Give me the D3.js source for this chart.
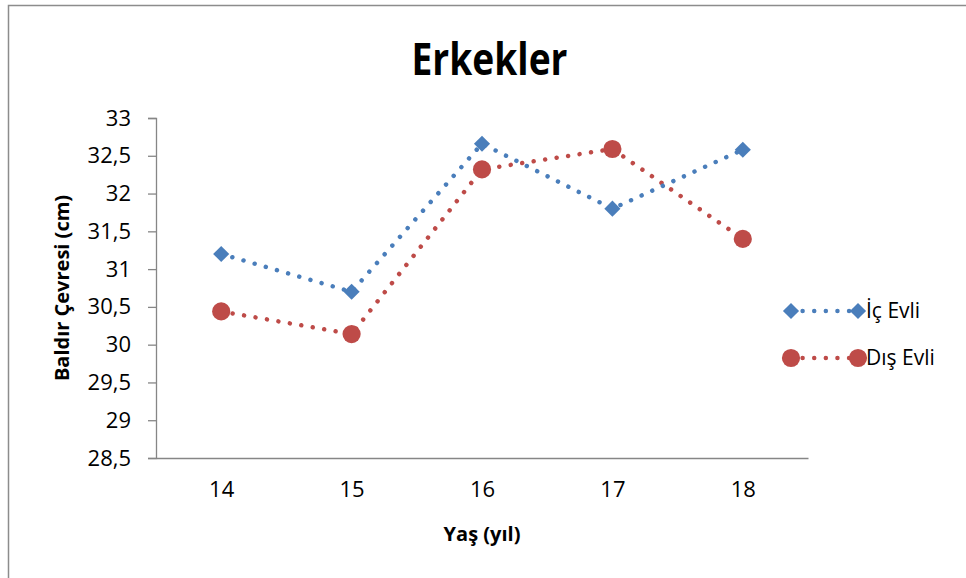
<!DOCTYPE html>
<html>
<head>
<meta charset="utf-8">
<script src="https://cdn.jsdelivr.net/npm/d3@7"></script>
<style>
  html, body { margin: 0; padding: 0; background: #fff; }
  svg { display: block; }
  text { font-family: "Open Sans", "Noto Sans", sans-serif; fill: #000; }
</style>
</head>
<body>
<svg id="chart" width="966" height="578"></svg>
<script>
const categories = ["14", "15", "16", "17", "18"];
const icEvli = [31.2, 30.7, 32.66, 31.8, 32.58];
const disEvli = [30.44, 30.14, 32.32, 32.59, 31.4];
const yTicks = [28.5, 29, 29.5, 30, 30.5, 31, 31.5, 32, 32.5, 33];
const seriesNames = ["İç Evli", "Dış Evli"];
const chartTitle = "Erkekler";
const xTitle = "Yaş (yıl)";
const yTitle = "Baldır Çevresi (cm)";

const blue = "#4a7ebb", red = "#be4b48", axisColor = "#868686";
const svg = d3.select("#chart");

// outer border
svg.append("rect").attr("x", 8.5).attr("y", 5.5).attr("width", 980).attr("height", 600)
  .attr("fill", "none").attr("stroke", "#8c8c8c").attr("stroke-width", 1.5);

const x = d3.scalePoint().domain(categories).range([156, 808]).padding(0.5);
const y = d3.scaleLinear().domain([28.5, 33]).range([458, 118]);

// Y axis
const yAxis = svg.append("g").attr("transform", "translate(156,0)")
  .call(d3.axisLeft(y).tickValues(yTicks).tickSize(8).tickPadding(17)
    .tickFormat(d => d3.format("")(d).replace(".", ",")));
yAxis.select(".domain").attr("stroke", axisColor).attr("stroke-width", 1.3);
yAxis.selectAll(".tick line").attr("stroke", axisColor).attr("stroke-width", 1.3);
yAxis.selectAll(".tick text").attr("font-size", 22).attr("font-family", "Open Sans").attr("fill", "#000");

// X axis
const xAxis = svg.append("g").attr("transform", "translate(0,458)")
  .call(d3.axisBottom(x).tickSize(0).tickPadding(23).tickSizeOuter(0));
xAxis.select(".domain").attr("stroke", axisColor).attr("stroke-width", 1.3);
xAxis.selectAll(".tick text").attr("font-size", 22).attr("font-family", "Open Sans").attr("fill", "#000");

// titles
svg.append("text").attr("x", 489.5).attr("y", 75).attr("text-anchor", "middle")
  .attr("font-size", 44).attr("font-weight", "bold")
  .attr("textLength", 156).attr("lengthAdjust", "spacingAndGlyphs").text(chartTitle);
svg.append("text").attr("x", 482).attr("y", 541).attr("text-anchor", "middle")
  .attr("font-size", 20).attr("font-weight", "bold").text(xTitle);
svg.append("text").attr("transform", "translate(69,288) rotate(-90)").attr("text-anchor", "middle")
  .attr("font-size", 20).attr("font-weight", "bold").text(yTitle);

const line = d3.line().x((d, i) => x(categories[i])).y(d => y(d));
const dash = "0.01 11.6";

function drawSeries(vals, color, shape) {
  svg.append("path").datum(vals).attr("d", line).attr("fill", "none")
    .attr("stroke", color).attr("stroke-width", 4.5).attr("stroke-linecap", "round")
    .attr("stroke-dasharray", dash);
  const sym = shape === "diamond"
    ? d3.symbol().type(d3.symbolSquare).size(130)
    : d3.symbol().type(d3.symbolCircle).size(260);
  svg.append("g").selectAll("path").data(vals).join("path")
    .attr("d", sym)
    .attr("transform", (d, i) => `translate(${x(categories[i])},${y(d)})` + (shape === "diamond" ? " rotate(45)" : ""))
    .attr("fill", color);
}
drawSeries(disEvli, red, "circle");
drawSeries(icEvli, blue, "diamond");

// legend
const legendRows = [
  { name: seriesNames[0], color: blue, shape: "diamond", y: 311 },
  { name: seriesNames[1], color: red, shape: "circle", y: 358 }
];
legendRows.forEach(r => {
  const g = svg.append("g");
  g.append("line").attr("x1", 791).attr("x2", 858).attr("y1", r.y).attr("y2", r.y)
    .attr("stroke", r.color).attr("stroke-width", 4.5).attr("stroke-linecap", "round")
    .attr("stroke-dasharray", dash);
  const sym = r.shape === "diamond"
    ? d3.symbol().type(d3.symbolSquare).size(130)
    : d3.symbol().type(d3.symbolCircle).size(260);
  [791, 858].forEach(px => {
    g.append("path").attr("d", sym)
      .attr("transform", `translate(${px},${r.y})` + (r.shape === "diamond" ? " rotate(45)" : ""))
      .attr("fill", r.color);
  });
  g.append("text").attr("x", 866).attr("y", r.y).attr("dy", "0.35em")
    .attr("font-size", 21).text(r.name);
});
</script>
</body>
</html>
